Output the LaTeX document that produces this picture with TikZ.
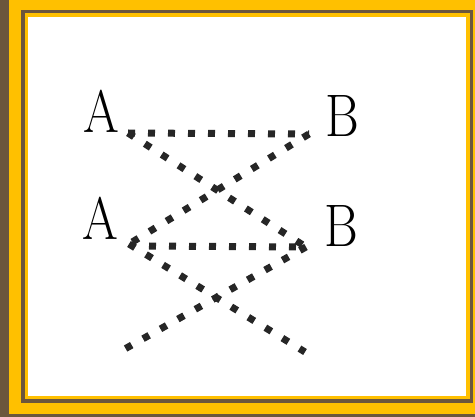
\documentclass[tikz,border=0pt]{standalone}
\usepackage{tikz}
\definecolor{framegold}{RGB}{255,192,0}
\definecolor{framebrown}{RGB}{108,86,60}
\newcommand{\narrowlbl}[1]{\scalebox{0.86}[1]{#1}}

\begin{document}
\begin{tikzpicture}[x=1pt, y=-1pt,
    letter/.style={font=\fontsize{60}{60}\selectfont, inner sep=0pt, anchor=base},
    dotline/.style={line width=7pt, black!85, dash pattern=on 7pt off 13pt}
  ]
    \useasboundingbox (0,0) rectangle (475,417);

    % Frame
    \fill[framegold] (0,0) rectangle (475,417);
    \fill[framebrown] (0,0) rectangle (9,417);
    \fill[framebrown] (0,414) rectangle (475,417);
    \draw[framebrown, line width=3.5pt] (22.75,11.75) rectangle (471.25,401.25);
    \fill[white] (28,17) rectangle (466,396);

    % Letters
    \node[letter] (A1) at (101.5,133) {\narrowlbl{A}};
    \node[letter] (B1) at (342,137) {\narrowlbl{B}};
    \node[letter] (A2) at (100.5,240) {\narrowlbl{A}};
    \node[letter] (B2) at (341,247) {\narrowlbl{B}};

    % Line ends
    \coordinate (a1) at (128,133);
    \coordinate (b1) at (309,134);
    \coordinate (a2) at (129,244);
    \coordinate (a2h) at (149,246);
    \coordinate (b2) at (306,247);
    \coordinate (c1) at (123,350);
    \coordinate (d1) at (305,352);

    % Upper crossing
    \draw[dotline] (a1) -- (b1);
    \draw[dotline] (a1) -- (b2);
    \draw[dotline] (b1) -- (a2);

    % Lower crossing
    \draw[dotline] (a2h) -- (b2);
    \draw[dotline] (a2) -- (d1);
    \draw[dotline] (b2) -- (c1);
  \end{tikzpicture}
\end{document}
